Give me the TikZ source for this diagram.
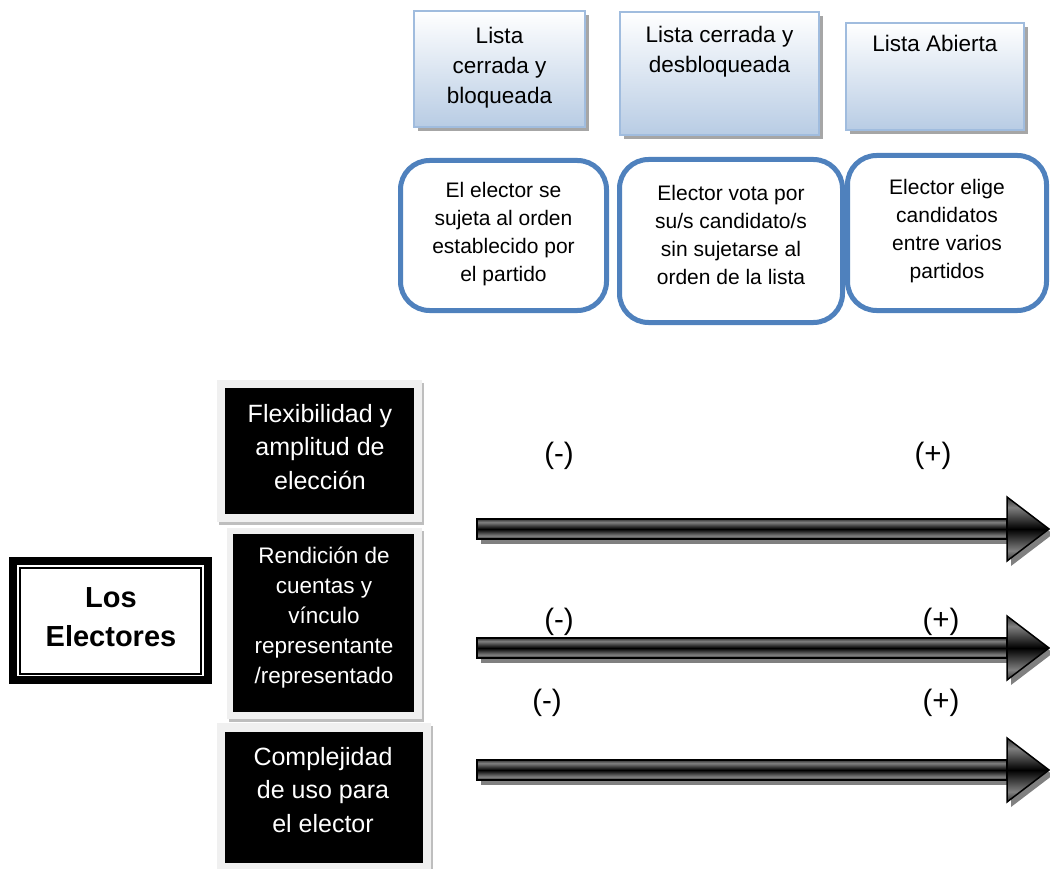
\documentclass[tikz,border=0pt]{standalone}
\usepackage{fontspec}
\setmainfont{Liberation Sans}

\definecolor{bordelista}{RGB}{160,188,222}
\definecolor{fondolista}{RGB}{184,204,228}
\definecolor{bordeazul}{RGB}{79,129,189}
\definecolor{sombra}{RGB}{166,166,166}
\definecolor{marcogris}{RGB}{240,240,240}
\definecolor{sombramarco}{RGB}{190,190,190}
\pgfdeclareverticalshading{barra}{100bp}{color(0bp)=(black!80); color(25bp)=(black!80); color(33bp)=(black!50); color(50bp)=(black); color(67bp)=(black!50); color(75bp)=(black!80); color(100bp)=(black!80)}

\begin{document}
\begin{tikzpicture}[x=1pt,y=-1pt,
  lista/.style={draw=bordelista, line width=2pt, top color=white, bottom color=fondolista},
  listatexto/.style={font=\fontsize{22.5}{30}\selectfont, align=center, inner sep=0pt},
  redondo/.style={draw=bordeazul, line width=5pt, fill=white, rounded corners=29pt},
  redtexto/.style={font=\fontsize{21}{28}\selectfont, align=center, inner sep=0pt},
  marco/.style={fill=marcogris},
  negrotexto/.style={text=white, align=center, inner sep=0pt},
  flechasombra/.style={fill=black!50},
  flecha/.style={draw=black, line width=1.5pt, shade, shading=barra},
  signo/.style={font=\fontsize{29.5}{32}\selectfont, inner sep=0pt}]
\useasboundingbox (0,0) rectangle (1050,869);

% tipos de lista
\fill[sombra] (418,15) rectangle (589,131);
\draw[lista] (414,11) rectangle (585,127);
\node[listatexto] (lcb) at (499.5,68) {Lista\\cerrada y\\bloqueada};
\fill[sombra] (624,16) rectangle (823,139);
\draw[lista] (620,12) rectangle (819,135);
\node[listatexto] (lcd) at (719.5,52) {Lista cerrada y\\desbloqueada};
\fill[sombra] (850,27) rectangle (1028,134);
\draw[lista] (846,23) rectangle (1024,130);
\node[listatexto] (la) at (935,43) {Lista Abierta};

% que hace el elector
\draw[redondo] (400.5,160.5) rectangle (606.5,310.5);
\node[redtexto] (ecb) at (503.5,234) {El elector se\\sujeta al orden\\establecido por\\el partido};
\draw[redondo] (619.5,159.5) rectangle (842.5,322.5);
\node[redtexto] (ecd) at (731,235) {Elector vota por\\su/s candidato/s\\sin sujetarse al\\orden de la lista};
\draw[redondo] (847.5,155.5) rectangle (1046.5,310.5);
\node[redtexto] (ea) at (947,231) {Elector elige\\candidatos\\entre varios\\partidos};

% los electores
\draw[line width=8pt] (13,561) rectangle (208,680);
\draw[line width=2.5pt] (20,568) rectangle (201,674);
\node[font=\bfseries\fontsize{29}{39}\selectfont, align=center, inner sep=0pt] (le) at (111,617) {Los\\Electores};

% criterios
\fill[sombramarco] (219,383) rectangle (424,525);
\fill[marco] (217,380) rectangle (422,522);
\fill[black] (225,388) rectangle (414,514);
\node[negrotexto, font=\fontsize{25}{33.5}\selectfont] (flex) at (320,447) {Flexibilidad y\\amplitud de\\elección};
\fill[sombramarco] (229,531) rectangle (424,722);
\fill[marco] (227,528) rectangle (422,719);
\fill[black] (233,534) rectangle (414,712);
\node[negrotexto, font=\fontsize{22.5}{30}\selectfont] (rend) at (324,618) {Rendición de\\cuentas y\\vínculo\\representante\\/representado};
\fill[sombramarco] (219,726) rectangle (433,874);
\fill[marco] (217,723) rectangle (431,871);
\fill[black] (225,732) rectangle (423,863);
\node[negrotexto, font=\fontsize{25}{33.5}\selectfont] (comp) at (323,790) {Complejidad\\de uso para\\el elector};

% flechas
\coordinate (f1) at (477,529);
\coordinate (f2) at (477,648);
\coordinate (f3) at (477,770);
\fill[flechasombra] ([shift={(4,5)}]f1) ++(0,-10) rectangle ++(530,20);
\path[flecha] (f1) ++(0,-10) rectangle ++(530,20);
\fill[flechasombra] ([shift={(4,5)}]f1) ++(530,-32) -- ++(42,32) -- ++(-42,32) -- cycle;
\path[flecha] (f1) ++(530,-32) -- ++(42,32) -- ++(-42,32) -- cycle;
\fill[flechasombra] ([shift={(4,5)}]f2) ++(0,-10) rectangle ++(530,20);
\path[flecha] (f2) ++(0,-10) rectangle ++(530,20);
\fill[flechasombra] ([shift={(4,5)}]f2) ++(530,-32) -- ++(42,32) -- ++(-42,32) -- cycle;
\path[flecha] (f2) ++(530,-32) -- ++(42,32) -- ++(-42,32) -- cycle;
\fill[flechasombra] ([shift={(4,5)}]f3) ++(0,-10) rectangle ++(530,20);
\path[flecha] (f3) ++(0,-10) rectangle ++(530,20);
\fill[flechasombra] ([shift={(4,5)}]f3) ++(530,-32) -- ++(42,32) -- ++(-42,32) -- cycle;
\path[flecha] (f3) ++(530,-32) -- ++(42,32) -- ++(-42,32) -- cycle;

\node[signo] (m1) at (559,456) {(-)};
\node[signo] (p1) at (933,456) {(+)};
\node[signo] (m2) at (559,622) {(-)};
\node[signo] (p2) at (941,622) {(+)};
\node[signo] (m3) at (547,703) {(-)};
\node[signo] (p3) at (941,703) {(+)};
\end{tikzpicture}
\end{document}
